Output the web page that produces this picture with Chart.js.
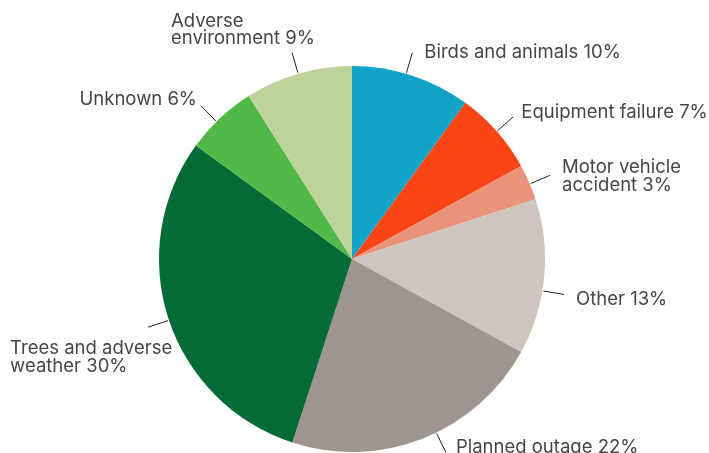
<!DOCTYPE html>
<html>
<head>
<meta charset="utf-8">
<script src="https://cdn.jsdelivr.net/npm/chart.js@4/dist/chart.umd.min.js"></script>
<style>
  html, body { margin: 0; padding: 0; background: #ffffff; }
  #wrap { width: 709px; height: 453px; }
</style>
</head>
<body>
<div id="wrap"><canvas id="chart" width="709" height="453"></canvas></div>
<script>
// Causes of outages, share of total (%)
const categories = [
  'Birds and animals',
  'Equipment failure',
  'Motor vehicle accident',
  'Other',
  'Planned outage',
  'Trees and adverse weather',
  'Unknown',
  'Adverse environment'
];
const shares = [10, 7, 3, 13, 22, 30, 6, 9];
const sliceColors = [
  '#11a3c8', '#fa4616', '#e9937b', '#cdc5be',
  '#9f958f', '#056b36', '#52b848', '#bed29c'
];

// Label placement: angular nudge of the leader line (deg), offset of the text
// block from the line's outer end, which block edge sits at that point, and
// where a long label wraps. Lines inside a block are always left-aligned.
const labelLayout = {
  'Birds and animals':         { nudge: -1.7, dx: 12,   dy: -1,  align: 'left' },
  'Equipment failure':         { nudge: 0,    dx: 8,    dy: -6,  align: 'left' },
  'Motor vehicle accident':    { nudge: 0.5,  dx: 12,   dy: 0,   align: 'left',  wrap: 2 },
  'Other':                     { nudge: 4.1,  dx: 12,   dy: 4,   align: 'left' },
  'Planned outage':            { nudge: -4.3, dx: 10,   dy: -6,  align: 'left' },
  'Trees and adverse weather': { nudge: -0.5, dx: -138, dy: 29,  align: 'left',  wrap: 3 },
  'Unknown':                   { nudge: -1.4, dx: -4,   dy: -8,  align: 'right' },
  'Adverse environment':       { nudge: 0,    dx: -121, dy: -24, align: 'left',  wrap: 1 }
};

const FONT_SIZE = 18.5;
const LINE_GAP = 17.5;
const FONT = FONT_SIZE + 'px Inter, "Open Sans", sans-serif';

const outsideLabels = {
  id: 'outsideLabels',
  afterDatasetsDraw(chart) {
    const ctx = chart.ctx;
    const meta = chart.getDatasetMeta(0);
    ctx.save();
    ctx.font = FONT;
    meta.data.forEach((arc, i) => {
      const p = arc.getProps(['x', 'y', 'startAngle', 'endAngle', 'outerRadius'], true);
      const name = categories[i];
      const lay = labelLayout[name] || { nudge: 0, dx: 10, dy: 0, align: 'left' };
      const mid = (p.startAngle + p.endAngle) / 2 + lay.nudge * Math.PI / 180;
      const r0 = p.outerRadius + 1, r1 = p.outerRadius + 22;
      const sx = p.x + Math.cos(mid) * r0, sy = p.y + Math.sin(mid) * r0;
      const ex = p.x + Math.cos(mid) * r1, ey = p.y + Math.sin(mid) * r1;

      ctx.beginPath();
      ctx.moveTo(sx, sy);
      ctx.lineTo(ex, ey);
      ctx.strokeStyle = '#222222';
      ctx.lineWidth = 1;
      ctx.stroke();

      const words = (name + ' ' + shares[i] + '%').split(' ');
      const lines = lay.wrap ? [words.slice(0, lay.wrap).join(' '), words.slice(lay.wrap).join(' ')]
                             : [words.join(' ')];
      const blockW = Math.max(...lines.map(t => ctx.measureText(t).width));
      const left = lay.align === 'right' ? ex + lay.dx - blockW : ex + lay.dx;
      const cap = FONT_SIZE * 0.727;
      const firstCapCenter = ey + lay.dy - (lines.length - 1) * LINE_GAP / 2;
      ctx.fillStyle = '#464646';
      ctx.textAlign = 'left';
      ctx.textBaseline = 'alphabetic';
      lines.forEach((t, k) => {
        ctx.fillText(t, left, firstCapCenter + k * LINE_GAP + cap / 2);
      });
    });
    ctx.restore();
  }
};

new Chart(document.getElementById('chart'), {
  type: 'pie',
  data: {
    labels: categories,
    datasets: [{
      data: shares,
      backgroundColor: sliceColors,
      borderWidth: 0
    }]
  },
  options: {
    responsive: false,
    animation: false,
    layout: { padding: { left: 159, right: 164, top: 66, bottom: 1 } },
    plugins: {
      legend: { display: false },
      tooltip: { enabled: false }
    }
  },
  plugins: [outsideLabels]
});
</script>
</body>
</html>
